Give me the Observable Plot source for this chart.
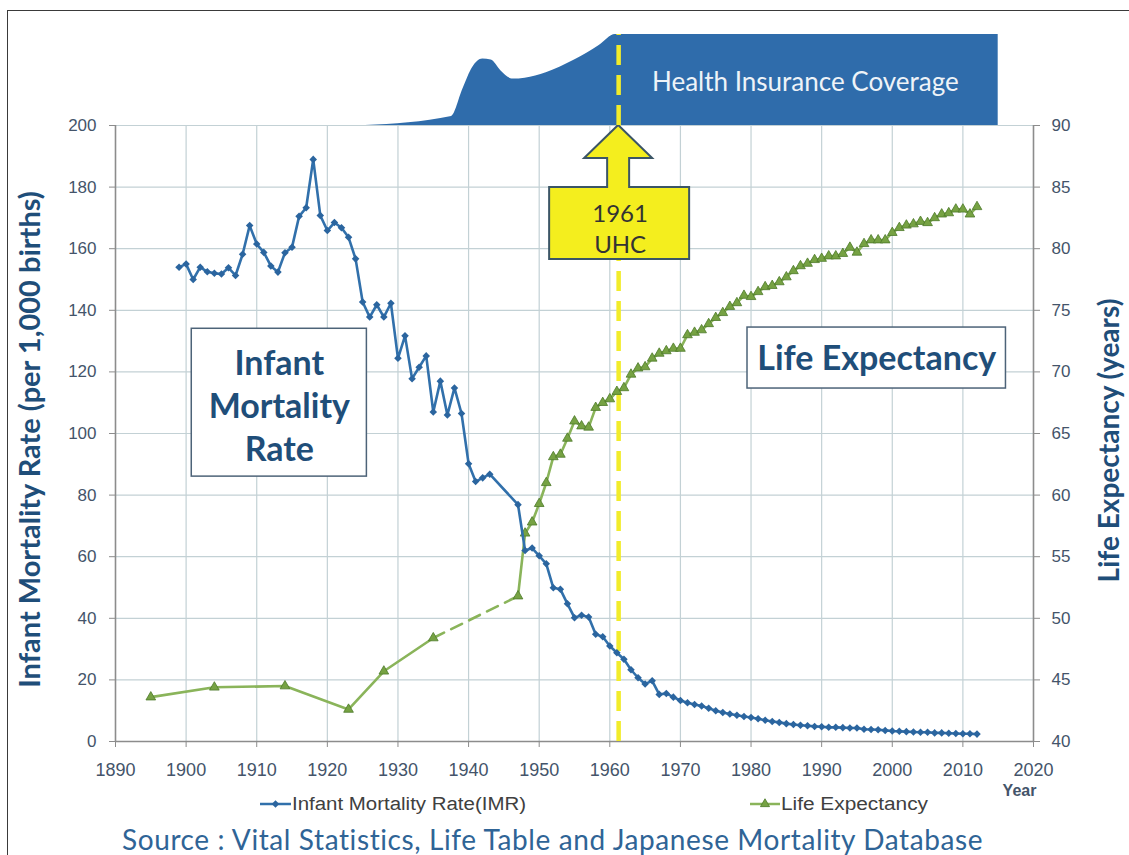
<!DOCTYPE html>
<html>
<head>
<meta charset="utf-8">
<script src="https://cdn.jsdelivr.net/npm/d3@7"></script>
<script src="https://cdn.jsdelivr.net/npm/@observablehq/plot@0.6"></script>
<style>
  body { margin: 0; background: #fff; }
  #wrap { position: relative; width: 1129px; height: 855px; background: #fff; overflow: hidden; }
  #frame { position: absolute; left: 7px; top: 10px; width: 1200px; height: 900px;
           border-top: 1.5px solid #3a3a3a; border-left: 1.5px solid #3a3a3a; }
  #main, #top { position: absolute; left: 0; top: 0; }
  #legend { position: absolute; left: 0; top: 793px; width: 1129px; height: 24px; }
  #source { position: absolute; left: 122px; top: 823px; font-family: Lato, "Open Sans", sans-serif;
            font-size: 28px; letter-spacing: 0.6px; line-height: 32px; color: #2f6496; white-space: nowrap; }
</style>
</head>
<body>
<div id="wrap">
  <div id="main"></div>
  <div id="top"></div>
  <div id="frame"></div>
  <div id="legend"></div>
  <div id="source">Source : Vital Statistics, Life Table and Japanese Mortality Database</div>
</div>
<script>
// ---------------- data ----------------
const imrYears = [1899,1900,1901,1902,1903,1904,1905,1906,1907,1908,1909,1910,1911,1912,1913,1914,1915,1916,1917,1918,
  1919,1920,1921,1922,1923,1924,1925,1926,1927,1928,1929,1930,1931,1932,1933,1934,1935,1936,1937,1938,1939,1940,1941,1942,1943,
  1947,1948,1949,1950,1951,1952,1953,1954,1955,1956,1957,1958,1959,1960,1961,1962,1963,1964,1965,1966,1967,1968,1969,1970,
  1971,1972,1973,1974,1975,1976,1977,1978,1979,1980,1981,1982,1983,1984,1985,1986,1987,1988,1989,1990,
  1991,1992,1993,1994,1995,1996,1997,1998,1999,2000,2001,2002,2003,2004,2005,2006,2007,2008,2009,2010,2011,2012];
const imrValues = [154.0,155.0,150.0,154.0,152.5,152.0,151.8,153.8,151.3,158.2,167.5,161.5,158.8,154.4,152.4,158.7,160.5,170.5,173.3,189.0,
  170.8,165.9,168.5,166.8,163.7,156.7,142.7,137.8,141.8,137.8,142.3,124.4,131.7,117.8,121.5,125.2,107.0,117.0,106.0,114.8,106.5,90.2,84.4,85.6,86.8,
  76.9,62.0,62.8,60.3,57.7,49.9,49.4,44.7,40.2,41.0,40.4,34.8,34.0,31.0,28.8,26.7,23.3,20.7,18.7,19.7,15.3,15.6,14.4,13.3,
  12.6,12.0,11.5,10.8,10.0,9.4,8.9,8.5,8.1,7.8,7.4,6.9,6.5,6.2,5.8,5.5,5.3,5.1,4.9,4.8,
  4.6,4.6,4.5,4.4,4.4,4.0,3.9,3.8,3.6,3.4,3.3,3.2,3.1,3.0,3.0,2.8,2.8,2.7,2.6,2.5,2.5,2.4];

const leYears = [1895,1904,1914,1923,1928,1935,
  1947,1948,1949,1950,1951,1952,1953,1954,1955,1956,1957,1958,1959,1960,1961,1962,1963,1964,1965,1966,
  1967,1968,1969,1970,1971,1972,1973,1974,1975,1976,1977,1978,1979,1980,1981,1982,1983,1984,1985,1986,
  1987,1988,1989,1990,1991,1992,1993,1994,1995,1996,1997,1998,1999,2000,2001,2002,2003,2004,2005,2006,
  2007,2008,2009,2010,2011,2012];
const leValues = [43.6,44.4,44.5,42.6,45.7,48.4,
  51.8,56.9,57.8,59.3,61.0,63.1,63.3,64.6,66.0,65.6,65.5,67.1,67.5,67.8,68.4,68.7,69.8,70.3,70.4,71.1,
  71.5,71.7,71.9,71.9,73.0,73.2,73.4,73.9,74.4,74.8,75.3,75.6,76.2,76.1,76.5,76.9,77.0,77.3,77.7,78.2,
  78.6,78.8,79.1,79.2,79.4,79.4,79.6,80.1,79.7,80.4,80.7,80.7,80.7,81.3,81.7,81.9,82.0,82.2,82.1,82.5,
  82.8,82.9,83.2,83.2,82.8,83.4];
const leGapYears = [1935, 1947];   // years joined by the dashed segment

const coverageYears  = [1925.4,1937.6,1939.2,1940.6,1942.0,1943.2,1944.6,1946.3,1948.0,1951.0,1955.0,1958.5,1960.8,2015.0];
const coverageValues = [0,     10,    40,    64,    73,    72,    60,    51,    52,    58,    72,    88,    100,   100];

const uhcYear = 1961.25;
const imrTicks = [0,20,40,60,80,100,120,140,160,180,200];
const leTicks = [40,45,50,55,60,65,70,75,80,85,90];
const yearTicks = [1890,1900,1910,1920,1930,1940,1950,1960,1970,1980,1990,2000,2010,2020];

// -------------- derived tables --------------
const le2y = v => (v - 40) * 4;   // map life expectancy (40..90) onto IMR scale (0..200)
const imr = imrYears.map((year, i) => ({year, value: imrValues[i]}));
const le = leYears.map((year, i) => ({year, value: leValues[i], y: le2y(leValues[i])}));
const leEarly = le.filter(d => d.year <= leGapYears[0]);
const leGap = le.filter(d => leGapYears.includes(d.year));
const leLate = le.filter(d => d.year >= leGapYears[1]);
const coverage = coverageYears.map((year, i) => ({year, value: coverageValues[i]}));

// -------------- styles --------------
const C = {
  imr: "#3170ab", imrDot: "#2b659f",
  le: "#8ab45a", leDot: "#76a243", leDotStroke: "#4d7a2a",
  grid: "#c3d1d5", axis: "#8c8c8c", tick: "#44546a", title: "#1f4e79",
  yellow: "#f2ec2a", cover: "#2f6cab"
};
const tickFont = "'Liberation Sans', Arial, sans-serif";
const titleFont = "Lato, 'Open Sans', sans-serif";

// arrow annotation (custom mark anchored on the scales)
function uhcArrow(index, scales) {
  const cx = scales.x(uhcYear), ty = scales.y(200);
  const pts = [[0,0],[34,33],[11,33],[11,62],[71,62],[71,134],[-69,134],[-69,62],[-11,62],[-11,33],[-34,33]];
  const g = d3.create("svg:g");
  g.append("path")
    .attr("d", "M" + pts.map(([dx, dy]) => `${cx + dx},${ty + dy}`).join("L") + "Z")
    .attr("fill", "#f4ee1e").attr("stroke", "#3b5566").attr("stroke-width", 2);
  const t = g.append("text").attr("font-family", titleFont).attr("font-size", 24)
    .attr("fill", "#333").attr("text-anchor", "middle");
  t.append("tspan").attr("x", cx + 2).attr("y", ty + 97).text("1961");
  t.append("tspan").attr("x", cx + 2).attr("y", ty + 128).text("UHC");
  return g.node();
}

const mainPlot = Plot.plot({
  width: 1129, height: 800,
  marginLeft: 115, marginRight: 96, marginTop: 125, marginBottom: 59,
  x: {domain: [1890, 2020]},
  y: {domain: [0, 200]},
  style: {background: "transparent", fontFamily: tickFont},
  marks: [
    Plot.gridX(yearTicks.slice(1, -1), {stroke: C.grid, strokeOpacity: 1, strokeWidth: 1.2}),
    Plot.gridY(imrTicks.slice(1), {stroke: C.grid, strokeOpacity: 1, strokeWidth: 1.2}),
    Plot.ruleX([1890, 2020], {stroke: C.axis, strokeWidth: 1.6}),
    Plot.ruleY([0], {stroke: C.axis, strokeWidth: 1.6}),
    Plot.axisY(imrTicks, {anchor: "left", tickSize: 6, tickPadding: 13, fontSize: 17, fill: C.tick, stroke: C.axis, label: null}),
    Plot.axisY(leTicks.map(le2y), {anchor: "right", tickFormat: d => String(d / 4 + 40), tickSize: 6, tickPadding: 12,
      fontSize: 17, fill: C.tick, stroke: C.axis, label: null}),
    Plot.axisX(yearTicks, {anchor: "bottom", tickFormat: d => String(d), tickSize: 6, tickPadding: 16, fontSize: 18,
      fill: C.tick, stroke: C.axis, label: null}),
    // axis titles
    Plot.text(["Infant Mortality Rate (per 1,000 births)"], {frameAnchor: "left", dx: -85, dy: 6, rotate: -90,
      fontSize: 29, fontWeight: "bold", fill: C.title, fontFamily: titleFont, textAnchor: "middle", lineAnchor: "middle"}),
    Plot.text(["Life Expectancy (years)"], {frameAnchor: "right", dx: 77, dy: 7, rotate: -90,
      fontSize: 28, fontWeight: "bold", fill: C.title, fontFamily: titleFont, textAnchor: "middle", lineAnchor: "middle"}),
    Plot.text(["Year"], {frameAnchor: "bottom-right", dx: -14, dy: 49, fontSize: 16, fontWeight: "bold",
      fill: C.tick, textAnchor: "middle", lineAnchor: "middle"}),
    // yellow UHC line
    Plot.ruleX([uhcYear], {y1: 0, y2: 200, stroke: C.yellow, strokeWidth: 4.5, strokeDasharray: "20,10"}),
    // annotation boxes
    Plot.rect([{x1: 1900.8, x2: 1925.6, y1: 86, y2: 134}], {x1: "x1", x2: "x2", y1: "y1", y2: "y2",
      fill: "white", stroke: "#4d6378", strokeWidth: 1.5}),
    Plot.text(["Infant\nMortality\nRate"], {x: 1913.2, y: 109.5, lineHeight: 1.27, fontSize: 34, fontWeight: "bold",
      fill: C.title, fontFamily: titleFont}),
    Plot.rect([{x1: 1979.5, x2: 2016.1, y1: 114.6, y2: 134.4}], {x1: "x1", x2: "x2", y1: "y1", y2: "y2",
      fill: "white", stroke: "#4d6378", strokeWidth: 1.5}),
    Plot.text(["Life Expectancy"], {x: 1997.8, y: 124, fontSize: 34, fontWeight: "bold",
      fill: C.title, fontFamily: titleFont}),
    // life expectancy
    Plot.line(leEarly, {x: "year", y: "y", stroke: C.le, strokeWidth: 2.6}),
    Plot.line(leGap, {x: "year", y: "y", stroke: C.le, strokeWidth: 2.6, strokeDasharray: "12,8"}),
    Plot.line(leLate, {x: "year", y: "y", stroke: C.le, strokeWidth: 2.6}),
    Plot.dot(le, {x: "year", y: "y", symbol: "triangle", r: 3.6, fill: C.leDot, stroke: C.leDotStroke, strokeWidth: 0.8}),
    // infant mortality
    Plot.line(imr.filter(d => d.year <= 1943), {x: "year", y: "value", stroke: C.imr, strokeWidth: 2.6}),
    Plot.line(imr.filter(d => d.year >= 1943), {x: "year", y: "value", stroke: C.imr, strokeWidth: 2.6}),
    Plot.dot(imr, {x: "year", y: "value", symbol: "diamond2", r: 3.4, fill: C.imrDot}),
    // arrow
    uhcArrow
  ]
});
document.getElementById("main").append(mainPlot);

const coveragePlot = Plot.plot({
  width: 1129, height: 125,
  marginLeft: 115, marginRight: 96, marginTop: 34, marginBottom: 0,
  x: {domain: [1890, 2020], axis: null},
  y: {domain: [0, 100], axis: null},
  style: {background: "transparent"},
  marks: [
    Plot.areaY(coverage, {x: "year", y: "value", fill: C.cover, curve: "monotone-x"}),
    Plot.ruleX([uhcYear], {y1: 0, y2: 100, stroke: C.yellow, strokeWidth: 4.5, strokeDasharray: "20,10"}),
    Plot.text(["Health Insurance Coverage"], {x: 1987.7, y: 47, fill: "#eef3f8", fontSize: 26,
      fontFamily: titleFont})
  ]
});
document.getElementById("top").append(coveragePlot);

// legend
const legend = d3.select("#legend").append("svg").attr("width", 1129).attr("height", 24);
const items = [
  {label: "Infant Mortality Rate(IMR)", x0: 260, x1: 291, len: 234, color: C.imr, dot: C.imrDot, sym: d3.symbolDiamond2, stroke: "none"},
  {label: "Life Expectancy", x0: 750, x1: 780, len: 147, color: C.le, dot: C.leDot, sym: d3.symbolTriangle, stroke: C.leDotStroke}
];
for (const it of items) {
  legend.append("line").attr("x1", it.x0).attr("x2", it.x1).attr("y1", 11).attr("y2", 11)
    .attr("stroke", it.color).attr("stroke-width", 2.5);
  legend.append("path").attr("d", d3.symbol(it.sym, 36)()).attr("transform", `translate(${(it.x0 + it.x1) / 2},11)`)
    .attr("fill", it.dot).attr("stroke", it.stroke).attr("stroke-width", 0.8);
  legend.append("text").attr("x", it.x1 + 1).attr("y", 11).attr("dy", "0.35em")
    .attr("font-family", tickFont).attr("font-size", 18).attr("fill", "#404040")
    .attr("textLength", it.len).attr("lengthAdjust", "spacingAndGlyphs").text(it.label);
}
</script>
</body>
</html>
